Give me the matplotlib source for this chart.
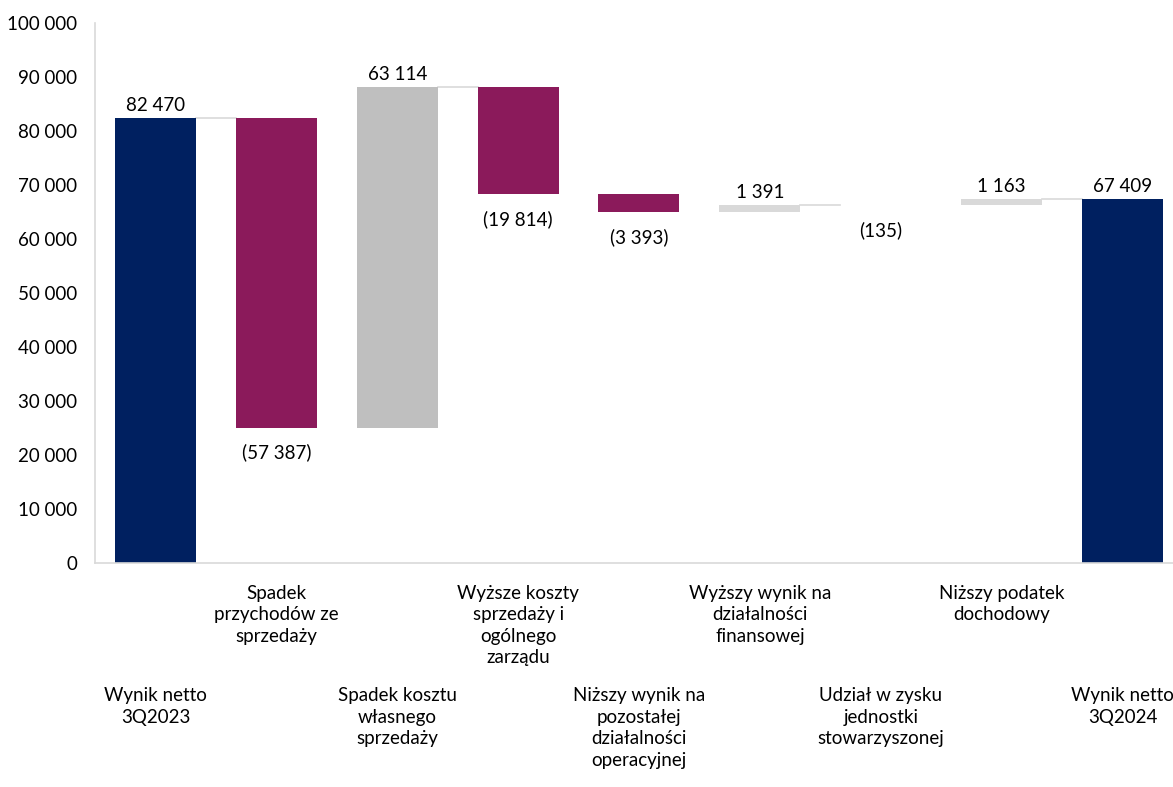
import matplotlib.pyplot as plt
from matplotlib.ticker import FuncFormatter
from matplotlib.transforms import blended_transform_factory

plt.rcParams['font.family'] = ['Lato', 'DejaVu Sans']

categories = [
    "Wynik netto\n3Q2023",
    "Spadek\nprzychodów ze\nsprzedaży",
    "Spadek kosztu\nwłasnego\nsprzedaży",
    "Wyższe koszty\nsprzedaży i\nogólnego\nzarządu",
    "Niższy wynik na\npozostałej\ndziałalności\noperacyjnej",
    "Wyższy wynik na\ndziałalności\nfinansowej",
    "Udział w zysku\njednostki\nstowarzyszonej",
    "Niższy podatek\ndochodowy",
    "Wynik netto\n3Q2024",
]
values = [82470, -57387, 63114, -19814, -3393, 1391, -135, 1163, 67409]
is_total = [True, False, False, False, False, False, False, False, True]
bar_colors = ["#002060", "#8B1A5B", "#BFBFBF", "#8B1A5B", "#8B1A5B",
              "#D9D9D9", "#8B1A5B", "#D9D9D9", "#002060"]
# bars after which a connector line is drawn in the original
connector_after = [0, 2, 5, 7]

def fmt(v):
    s = f"{abs(v):,}".replace(",", " ")
    return f"({s})" if v < 0 else s

# waterfall geometry
bottoms, heights, levels = [], [], []
running = 0
for v, tot in zip(values, is_total):
    if tot:
        bottoms.append(0)
        heights.append(v)
        running = v
    else:
        bottoms.append(running if v > 0 else running + v)
        heights.append(abs(v))
        running += v
    levels.append(running)

fig = plt.figure(figsize=(11.73, 7.87), dpi=100)
ax = fig.add_axes([0.081, 0.2846, 0.9275, 0.6861])

x = list(range(len(values)))
w = 0.67
ax.bar(x, heights, bottom=bottoms, width=w, color=bar_colors, zorder=2)

for i in connector_after:
    ax.plot([i + w / 2, i + 1 - w / 2], [levels[i], levels[i]],
            color="#D9D9D9", lw=1.2, zorder=1)

for i, v in enumerate(values):
    if v >= 0:
        ax.annotate(fmt(v), (i, bottoms[i] + heights[i]), xytext=(0, 9),
                    textcoords="offset points", ha="center", va="center",
                    fontsize=13.5)
    else:
        ax.annotate(fmt(v), (i, bottoms[i]), xytext=(0, -18),
                    textcoords="offset points", ha="center", va="center",
                    fontsize=13.5)

trans = blended_transform_factory(ax.transData, ax.transAxes)
for i, lab in enumerate(categories):
    y = -0.04 if i % 2 == 1 else -0.23
    ax.text(i, y, lab, transform=trans, ha="center", va="top",
            fontsize=13.5, linespacing=1.32, clip_on=False)

ax.set_xlim(-0.5, 8.5)
ax.set_ylim(0, 100000)
ax.set_yticks(range(0, 100001, 10000))
ax.yaxis.set_major_formatter(FuncFormatter(lambda v, p: f"{int(v):,}".replace(",", " ")))
ax.set_xticks([])
ax.tick_params(axis="y", length=0, pad=13, labelsize=13.5)

for s in ["top", "right"]:
    ax.spines[s].set_visible(False)
for s in ["left", "bottom"]:
    ax.spines[s].set_color("#D9D9D9")
    ax.spines[s].set_linewidth(1.2)

fig.savefig("out.png", dpi=100)
